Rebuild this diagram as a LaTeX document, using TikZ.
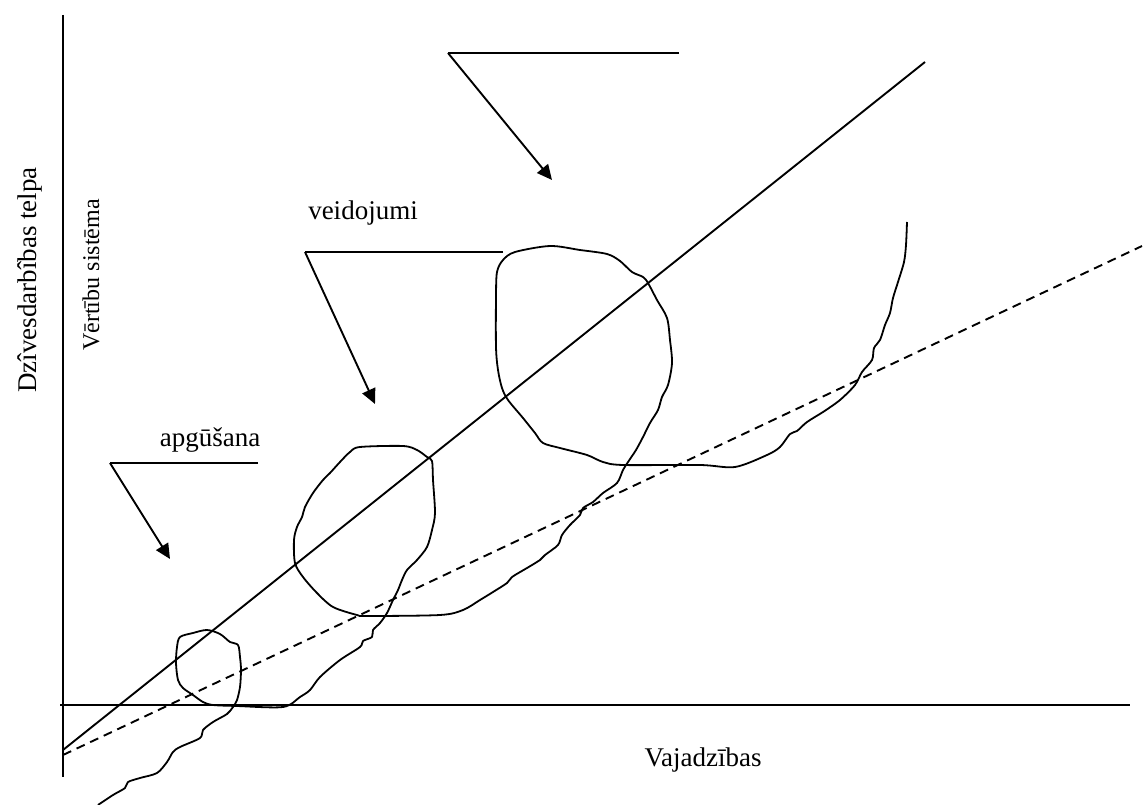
\documentclass[tikz,border=0pt]{standalone}
\usepackage{fontspec}
\setmainfont{Liberation Serif}
\usetikzlibrary{arrows.meta}
\begin{document}
\begin{tikzpicture}[x=1pt,y=-1pt,
  ln/.style={line width=1.9pt, line cap=butt},
  callout/.style={line width=1.9pt, -{Triangle[length=15pt,width=14pt]}},
  lbl/.style={inner sep=0pt, font=\fontsize{27}{32}\selectfont},
  lblsmall/.style={inner sep=0pt, font=\fontsize{24}{28}\selectfont}]
\useasboundingbox (0,0) rectangle (1144,805);
% axes
\coordinate (vtop) at (63,15);
\coordinate (vbot) at (63,777);
\coordinate (hleft) at (60,705);
\coordinate (hright) at (1130,705);
\draw[ln] (vtop) -- (vbot);
\draw[ln] (hleft) -- (hright);
% diagonal lines
\coordinate (sA) at (63,750);
\coordinate (sB) at (925,62);
\draw[ln] (sA) -- (sB);
\coordinate (dA) at (63,755);
\coordinate (dB) at (1142,246);
\draw[ln, dash pattern=on 9pt off 6pt] (dA) -- (dB);
% labels
\node[lbl] (vaj) at (703,760) {Vajadzības};
\node[lbl, rotate=90] (dziv) at (30,280) {Dzîvesdarbîbas telpa};
\node[lblsmall, rotate=90] (vert) at (91,275) {Vērtību sistēma};
\node[lbl] (veid) at (363,213) {veidojumi};
\node[lbl] (apg) at (210,440) {apgūšana};
% callouts
\coordinate (c1a) at (679,53);
\coordinate (c1b) at (448,53);
\coordinate (c1t) at (552,180);
\draw[ln] (c1a) -- (c1b);
\draw[callout] (c1b) -- (c1t);
\coordinate (c2a) at (503,252);
\coordinate (c2b) at (305,252);
\coordinate (c2t) at (375,404);
\draw[ln] (c2a) -- (c2b);
\draw[callout] (c2b) -- (c2t);
\coordinate (c3a) at (258,463);
\coordinate (c3b) at (110,463);
\coordinate (c3t) at (170,559);
\draw[ln] (c3a) -- (c3b);
\draw[callout] (c3b) -- (c3t);
% hand-drawn spiral curve
\draw[line width=1.8pt, line join=round] plot[smooth, tension=0.5] coordinates {
(907,222) (906,245) (904,262) (898,282) (893,298) (890,313) (885,325) (880,340) (874,348) (872,360) (862,372) (855,385) (840,400) (823,412) (807,422) (797,431) (790,434) (780,447) (767,455) (735,467) (700,465) (623,465) (603,462) (587,455) (560,448) (543,443) (535,433) (523,418) (508,400) (502,388) (498,370) (496,347) (496,297) (497,272) (503,260) (515,252) (550,246) (580,250) (607,254) (620,261) (632,272) (643,277) (648,283) (657,300) (667,318) (670,340) (672,363) (668,385) (662,397) (658,410) (650,423) (643,437) (636,450) (628,462) (623,470) (617,483) (603,493) (593,502) (583,508) (580,515) (570,525) (562,535) (558,545) (545,555) (540,560) (527,568) (512,577) (507,583) (493,592) (480,600) (463,610) (440,615) (367,616) (357,615) (333,607) (317,593) (303,577) (295,563) (294,540) (297,527) (302,517) (305,507) (313,493) (323,480) (330,473) (340,462) (350,452) (360,447) (403,446) (417,450) (427,457) (432,461) (433,480) (435,513) (432,530) (427,547) (417,560) (407,570) (402,580) (398,590) (393,600) (387,613) (380,623) (373,630) (372,637) (363,641) (360,647) (340,660) (320,677) (310,690) (300,697) (283,707) (237,706) (213,705) (203,702) (193,695) (183,688) (178,680) (176,663) (177,647) (180,637) (193,633) (207,630) (220,634) (230,642) (238,645) (240,657) (241,670) (240,687) (237,700) (233,707) (227,714) (213,722) (203,730) (200,738) (180,747) (173,752) (167,762) (157,773) (140,778) (128,782) (125,788) (113,795) (98,805)};
\end{tikzpicture}
\end{document}
